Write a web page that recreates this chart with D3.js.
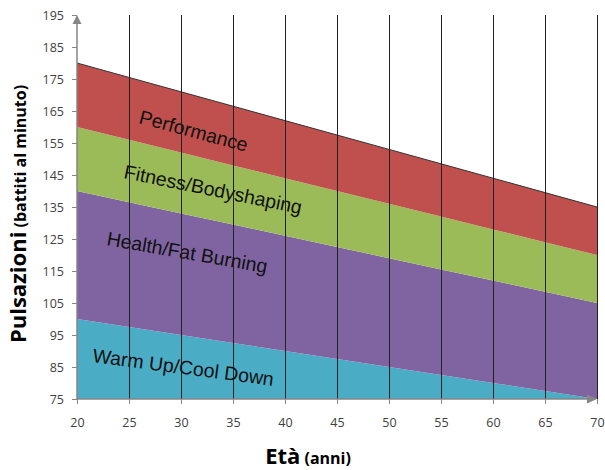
<!DOCTYPE html>
<html>
<head>
<meta charset="utf-8">
<script src="https://cdn.jsdelivr.net/npm/d3@7"></script>
<style>
  html, body { margin: 0; padding: 0; background: #fff; }
  svg { display: block; }
</style>
</head>
<body>
<svg id="chart" width="605" height="470"></svg>
<script>
// Heart-rate training zones by age (upper bound of each zone, bpm)
const ages        = [20, 25, 30, 35, 40, 45, 50, 55, 60, 65, 70];
const performance = [180, 175.5, 171, 166.5, 162, 157.5, 153, 148.5, 144, 139.5, 135];
const fitness     = [160, 156, 152, 148, 144, 140, 136, 132, 128, 124, 120];
const health      = [140, 136.5, 133, 129.5, 126, 122.5, 119, 115.5, 112, 108.5, 105];
const warmUp      = [100, 97.5, 95, 92.5, 90, 87.5, 85, 82.5, 80, 77.5, 75];
const yBase = 75;

const xTicks = [20, 25, 30, 35, 40, 45, 50, 55, 60, 65, 70];
const yTicks = [75, 85, 95, 105, 115, 125, 135, 145, 155, 165, 175, 185, 195];

const zoneNames  = ["Warm Up/Cool Down", "Health/Fat Burning", "Fitness/Bodyshaping", "Performance"];
const zoneColors = ["#4BACC6", "#8064A2", "#9BBB59", "#C0504D"];

const svg = d3.select("#chart");
const x = d3.scaleLinear().domain([20, 70]).range([77, 597]);
const y = d3.scaleLinear().domain([75, 195]).range([399, 15]);

// stacked bands: each zone spans from previous bound to its own bound
const bounds = [ages.map(() => yBase), warmUp, health, fitness, performance];
const area = d3.area()
  .x(d => x(d.age))
  .y0(d => y(d.lo))
  .y1(d => y(d.hi));

for (let i = 0; i < 4; i++) {
  const pts = ages.map((a, j) => ({ age: a, lo: bounds[i][j], hi: bounds[i + 1][j] }));
  svg.append("path").attr("d", area(pts)).attr("fill", zoneColors[i]);
}

// top boundary line
svg.append("path")
  .attr("d", d3.line().x((d, j) => x(ages[j])).y(d => y(d))(performance))
  .attr("fill", "none").attr("stroke", "#333").attr("stroke-width", 1);

// vertical grid lines
svg.append("g").selectAll("line")
  .data(xTicks.filter(t => t > 20))
  .join("line")
  .attr("x1", d => Math.round(x(d)) + 0.5).attr("x2", d => Math.round(x(d)) + 0.5)
  .attr("y1", y(195)).attr("y2", y(75))
  .attr("stroke", "#222").attr("stroke-width", 1);

// axes
const axisColor = "#868686";
const yAxis = svg.append("g")
  .attr("transform", `translate(${x(20)},0)`)
  .call(d3.axisLeft(y).tickValues(yTicks).tickSize(5).tickPadding(8));
const xAxis = svg.append("g")
  .attr("transform", `translate(0,${y(75)})`)
  .call(d3.axisBottom(x).tickValues(xTicks).tickSize(5).tickPadding(14));
[yAxis, xAxis].forEach(g => {
  g.select(".domain").remove();
  g.selectAll(".tick line").attr("stroke", axisColor);
  g.selectAll(".tick text")
    .attr("fill", "#404040")
    .style("font-family", "'Open Sans', sans-serif")
    .style("font-size", "12.5px");
});

// axis lines with arrow heads
svg.append("line").attr("x1", x(20)).attr("x2", x(20)).attr("y1", y(75)).attr("y2", y(195) + 6)
  .attr("stroke", axisColor).attr("stroke-width", 1.5);
svg.append("path")
  .attr("d", `M${x(20)},${y(195)} l-4.5,9 l9,0 Z`).attr("fill", axisColor);
svg.append("line").attr("x1", x(20)).attr("x2", x(70) - 6).attr("y1", y(75)).attr("y2", y(75))
  .attr("stroke", axisColor).attr("stroke-width", 1.5);
svg.append("path")
  .attr("d", `M${x(70)},${y(75)} l-10,-4.5 l0,9 Z`).attr("fill", axisColor);

// zone labels, tilted along each band
const labels = [
  { text: zoneNames[3], x: 138, y: 123, angle: 15 },
  { text: zoneNames[2], x: 123, y: 178, angle: 11.5 },
  { text: zoneNames[1], x: 106, y: 245, angle: 10 },
  { text: zoneNames[0], x: 92,  y: 362, angle: 7.5 }
];
svg.append("g").selectAll("text")
  .data(labels)
  .join("text")
  .attr("transform", d => `translate(${d.x},${d.y}) rotate(${d.angle})`)
  .attr("fill", "#111")
  .style("font-family", "'Liberation Sans', Arial, sans-serif")
  .style("font-size", "19.5px")
  .text(d => d.text);

// axis titles
const yt = svg.append("text")
  .attr("transform", `translate(26,214) rotate(-90)`)
  .attr("text-anchor", "middle")
  .style("font-family", "'Open Sans', sans-serif")
  .style("font-weight", "bold")
  .attr("fill", "#000");
yt.append("tspan").style("font-size", "22px").text("Pulsazioni");
yt.append("tspan").style("font-size", "16px").text(" (battiti al minuto)");

const xt = svg.append("text")
  .attr("transform", `translate(308,464)`)
  .attr("text-anchor", "middle")
  .style("font-family", "'Open Sans', sans-serif")
  .style("font-weight", "bold")
  .attr("fill", "#000");
xt.append("tspan").style("font-size", "22px").text("Età");
xt.append("tspan").style("font-size", "16px").text(" (anni)");
</script>
</body>
</html>
